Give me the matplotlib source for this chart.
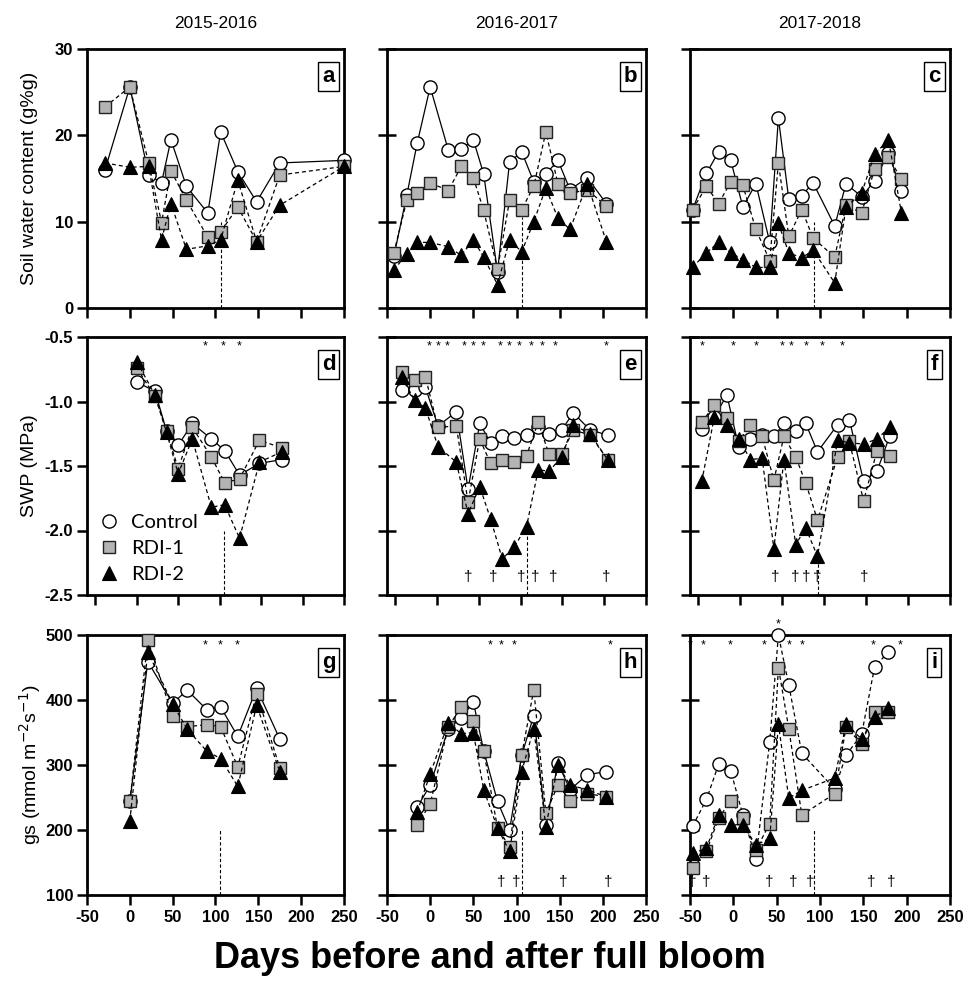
"""Soil water content, stem water potential and stomatal conductance for three seasons."""

import matplotlib

matplotlib.use("Agg")
import matplotlib.pyplot as plt

# ---- season titles / labels ----
seasons = ["2015-2016", "2016-2017", "2017-2018"]
row_labels = ["Soil water content (g%g)", "SWP (MPa)", "gs (mmol m$^{-2}$s$^{-1}$)"]
panel_letters = ["a", "b", "c", "d", "e", "f", "g", "h", "i"]
treatments = ["Control", "RDI-1", "RDI-2"]
x_ticks = [-50, 0, 50, 100, 150, 200, 250]

# ---- soil water content ----
a_days = [-29, 0, 22, 37, 48, 66, 91, 106, 126, 148, 175, 250]
a_ctrl = [16.0, 25.6, 15.4, 14.5, 19.5, 14.1, 11.0, 20.4, 15.8, 12.3, 16.8, 17.1]
a_rdi1 = [23.3, 25.6, 16.8, 9.9, 15.9, 12.5, 8.2, 8.8, 11.7, 7.7, 15.4, 16.4]
a_rdi2 = [16.8, 16.3, 16.4, 7.9, 12.1, 6.8, 7.2, 7.9, 14.8, 7.7, 11.9, 16.4]

b_days = [-42, -27, -15, 0, 21, 36, 50, 62, 78, 92, 106, 120, 134, 148, 162, 182, 204]
b_ctrl = [6.0, 13.1, 19.1, 25.6, 18.3, 18.4, 19.5, 15.5, 4.2, 16.9, 18.1, 14.6, 15.5, 17.1, 13.7, 15.1, 12.1]
b_rdi1 = [6.4, 12.5, 13.3, 14.5, 13.6, 16.4, 15.1, 11.3, 4.5, 12.5, 11.4, 14.1, 20.4, 14.4, 13.3, 13.7, 11.8]
b_rdi2 = [4.4, 6.3, 7.6, 7.6, 7.1, 6.1, 7.9, 5.9, 2.7, 7.9, 6.5, 10.0, 13.9, 10.4, 9.1, 14.4, 7.7]

c_days = [-47, -31, -17, -3, 11, 26, 42, 52, 64, 79, 92, 117, 130, 148, 163, 179, 194]
c_ctrl = [11.4, 15.6, 18.1, 17.1, 11.7, 14.4, 7.6, 22.0, 12.6, 13.0, 14.5, 9.5, 14.4, 12.9, 14.7, 18.0, 13.6]
c_rdi1 = [11.4, 14.1, 12.1, 14.6, 14.2, 9.1, 5.5, 16.8, 8.3, 11.4, 8.1, 5.9, 11.9, 11.0, 16.1, 17.5, 14.9]
c_rdi2 = [4.7, 6.4, 7.6, 6.4, 5.6, 4.7, 4.7, 9.8, 6.4, 5.8, 6.7, 2.9, 11.7, 13.3, 17.8, 19.5, 11.0]

# ---- stem water potential ----
d_days = [0, 22, 36, 50, 67, 90, 106, 124, 148, 175]
d_ctrl = [-0.85, -0.92, -1.23, -1.34, -1.17, -1.29, -1.38, -1.57, -1.48, -1.45]
d_rdi1 = [-0.74, -0.96, -1.23, -1.52, -1.20, -1.43, -1.63, -1.60, -1.30, -1.36]
d_rdi2 = [-0.69, -0.95, -1.24, -1.56, -1.29, -1.82, -1.80, -2.06, -1.47, -1.39]

e_days = [-42, -27, -14, 1, 23, 37, 51, 64, 78, 92, 107, 121, 134, 149, 163, 183, 204]
e_ctrl = [-0.91, -0.91, -0.89, -1.19, -1.08, -1.68, -1.17, -1.32, -1.27, -1.28, -1.26, -1.20, -1.25, -1.22, -1.09, -1.22, -1.26]
e_rdi1 = [-0.77, -0.83, -0.81, -1.20, -1.19, -1.78, -1.29, -1.48, -1.45, -1.47, -1.42, -1.16, -1.41, -1.41, -1.22, -1.26, -1.45]
e_rdi2 = [-0.81, -0.99, -1.05, -1.35, -1.47, -1.87, -1.66, -1.91, -2.22, -2.13, -1.97, -1.53, -1.54, -1.43, -1.18, -1.25, -1.45]

f_days = [-46, -31, -16, -2, 12, 26, 40, 52, 66, 78, 92, 116, 130, 147, 163, 178]
f_ctrl = [-1.21, -1.12, -0.95, -1.35, -1.29, -1.26, -1.27, -1.17, -1.23, -1.17, -1.39, -1.18, -1.14, -1.62, -1.54, -1.27]
f_rdi1 = [-1.16, -1.03, -1.13, -1.31, -1.18, -1.27, -1.61, -1.27, -1.43, -1.63, -1.92, -1.43, -1.31, -1.77, -1.38, -1.42]
f_rdi2 = [-1.62, -1.12, -1.18, -1.29, -1.45, -1.44, -2.14, -1.45, -2.11, -1.98, -2.20, -1.30, -1.32, -1.33, -1.29, -1.20]

# ---- stomatal conductance ----
g_days = [0, 21, 50, 67, 90, 106, 126, 148, 175]
g_ctrl = [244, 459, 395, 415, 385, 389, 344, 418, 340]
g_rdi1 = [244, 492, 375, 359, 362, 359, 297, 410, 296]
g_rdi2 = [214, 474, 394, 355, 321, 310, 267, 392, 290]

h_days = [-15, 0, 21, 36, 50, 62, 78, 92, 106, 120, 134, 148, 162, 182, 204]
h_ctrl = [235, 269, 356, 372, 397, 322, 244, 200, 315, 376, 208, 303, 262, 285, 290]
h_rdi1 = [208, 240, 359, 389, 367, 322, 203, 174, 315, 416, 226, 269, 245, 256, 251]
h_rdi2 = [228, 286, 365, 348, 350, 262, 203, 167, 290, 356, 205, 300, 269, 262, 251]

i_days = [-47, -31, -17, -3, 11, 26, 42, 52, 64, 79, 117, 130, 148, 163, 179]
i_ctrl = [206, 247, 301, 291, 223, 156, 336, 500, 423, 318, 263, 315, 347, 451, 474]
i_rdi1 = [141, 167, 218, 245, 218, 169, 210, 450, 356, 223, 256, 358, 333, 382, 382]
i_rdi2 = [164, 172, 223, 208, 208, 177, 187, 363, 249, 261, 280, 363, 340, 374, 387]

# ---- significance marks (days) ----
d_stars = [83, 104, 124]
e_stars = [-9, 1, 12, 32, 43, 55, 75, 86, 98, 113, 126, 141, 202]
f_stars = [-46, -9, 19, 50, 61, 79, 98, 122]
g_stars = [88, 105, 125]
h_stars = [70, 82, 97, 208]
i_stars = [-50, -35, -4, 36, 65, 80, 161, 192]
i_stars_above = [52]
e_daggers = [37, 67, 101, 117, 139, 202]
f_daggers = [42, 65, 79, 92, 148]
h_daggers = [82, 100, 154, 206]
i_daggers = [-48, -31, 41, 69, 89, 159, 182]

# ---- dashed marker line (day, low, high) ----
a_mark = (106, 0, 10)
b_mark = (106, 0, 10.5)
c_mark = (93, 0, 10)
d_mark = (105, -2.5, -2.0)
e_mark = (107, -2.5, -1.97)
f_mark = (93, -2.5, -2.2)
g_mark = (105, 100, 200)
h_mark = (106, 100, 200)
i_mark = (93, 100, 200)

FIG_W, FIG_H = 978, 992
COL_X = [(87, 344), (387, 646), (690, 950)]
ROW_Y = [(49, 308), (337, 595), (635, 895)]
Y_LIMS = [(0, 30), (-2.5, -0.5), (100, 500)]
Y_TICKS = [[0, 10, 20, 30], [-2.5, -2.0, -1.5, -1.0, -0.5], [100, 200, 300, 400, 500]]
X_LIMS = [(-50, 250), (-60, 250), (-50, 250)]
STAR_Y = [None, -0.575, 484]
DAGGER_Y = [None, -2.36, 120]

DASH = (0, (3.2, 2.4))


def axes_rect(col, row):
    x0, x1 = COL_X[col]
    y0, y1 = ROW_Y[row]
    return [x0 / FIG_W, 1 - y1 / FIG_H, (x1 - x0) / FIG_W, (y1 - y0) / FIG_H]


def series_styles(control_dashed=False):
    common = dict(color="black", lw=0.9, clip_on=False)
    ctrl = dict(common, marker="o", ms=9.5, mfc="white", mec="black", mew=1.0,
                ls=DASH if control_dashed else "-", zorder=3)
    rdi1 = dict(common, marker="s", ms=9, mfc="#b4b4b4", mec="#222222", mew=1.0,
                ls=DASH, zorder=4)
    rdi2 = dict(common, marker="^", ms=10, mfc="black", mec="black", mew=0.8,
                ls=DASH, zorder=5)
    return ctrl, rdi1, rdi2


def draw_panel(ax, row, col, days, ctrl, rdi1, rdi2, mark, letter,
               stars=None, daggers=None, control_dashed=False):
    s_ctrl, s_rdi1, s_rdi2 = series_styles(control_dashed)
    ax.plot(days, ctrl, label=treatments[0], **s_ctrl)
    ax.plot(days, rdi1, label=treatments[1], **s_rdi1)
    ax.plot(days, rdi2, label=treatments[2], **s_rdi2)

    day, low, high = mark
    ax.plot([day, day], [low, high], color="black", lw=0.8, ls=(0, (3, 2)), zorder=2)

    for x in stars or []:
        ax.text(x, STAR_Y[row], "*", ha="center", va="center", fontsize=9)
    for x in daggers or []:
        ax.text(x, DAGGER_Y[row], "\u2020", ha="center", va="center", fontsize=11)

    ax.set_xlim(*X_LIMS[row])
    ax.set_ylim(*Y_LIMS[row])
    ax.set_xticks(x_ticks)
    ax.set_yticks(Y_TICKS[row])
    for spine in ax.spines.values():
        spine.set_linewidth(2.0)
    ax.tick_params(axis="x", direction="out", length=7, width=1.8, labelsize=12, pad=4)
    ax.tick_params(axis="y", direction="out" if col == 0 else "inout",
                   length=7 if col == 0 else 13, width=1.8, labelsize=12, pad=3)
    if row < 2:
        ax.tick_params(axis="x", labelbottom=False)
    if col > 0:
        ax.tick_params(axis="y", labelleft=False)
    if row == 1:
        ax.set_yticklabels([f"{t:.1f}" for t in Y_TICKS[row]])
    plt.setp(ax.get_xticklabels() + ax.get_yticklabels(), fontweight="bold")

    ax.text(0.94, 0.895, letter, transform=ax.transAxes, ha="center", va="center",
            fontsize=16, fontweight="bold", zorder=6,
            bbox=dict(boxstyle="square,pad=0.18", fc="white", ec="black", lw=1.0))


def main():
    plt.rcParams["font.family"] = ["Liberation Sans", "DejaVu Sans"]
    plt.rcParams["axes.unicode_minus"] = False
    fig = plt.figure(figsize=(FIG_W / 100, FIG_H / 100), dpi=100)

    panels = [
        (a_days, a_ctrl, a_rdi1, a_rdi2, a_mark, None, None),
        (b_days, b_ctrl, b_rdi1, b_rdi2, b_mark, None, None),
        (c_days, c_ctrl, c_rdi1, c_rdi2, c_mark, None, None),
        (d_days, d_ctrl, d_rdi1, d_rdi2, d_mark, d_stars, None),
        (e_days, e_ctrl, e_rdi1, e_rdi2, e_mark, e_stars, e_daggers),
        (f_days, f_ctrl, f_rdi1, f_rdi2, f_mark, f_stars, f_daggers),
        (g_days, g_ctrl, g_rdi1, g_rdi2, g_mark, g_stars, None),
        (h_days, h_ctrl, h_rdi1, h_rdi2, h_mark, h_stars, h_daggers),
        (i_days, i_ctrl, i_rdi1, i_rdi2, i_mark, i_stars, i_daggers),
    ]

    axes = []
    for k, (days, ctrl, rdi1, rdi2, mark, stars, daggers) in enumerate(panels):
        row, col = divmod(k, 3)
        ax = fig.add_axes(axes_rect(col, row))
        draw_panel(ax, row, col, days, ctrl, rdi1, rdi2, mark, panel_letters[k],
                   stars, daggers, control_dashed=(k == 8))
        axes.append(ax)

    # star sitting above the top spine in panel i
    for x in i_stars_above:
        axes[8].text(x, 516, "*", ha="center", va="center", fontsize=9, clip_on=False)

    leg = axes[3].legend(loc="lower left", frameon=False, handlelength=1.0,
                         handletextpad=0.6, labelspacing=0.45, borderaxespad=0.2,
                         prop={"family": ["Lato", "DejaVu Sans"], "size": 14.5})
    for handle in leg.get_lines():
        handle.set_linestyle("none")

    for col, title in enumerate(seasons):
        x0, x1 = COL_X[col]
        fig.text((x0 + x1) / 2 / FIG_W, 1 - 24 / FIG_H, title, ha="center", va="center",
                 fontsize=12.5)

    for row, label in enumerate(row_labels):
        y0, y1 = ROW_Y[row]
        fig.text(30 / FIG_W, 1 - (y0 + y1) / 2 / FIG_H, label, rotation=90,
                 ha="center", va="center", fontsize=14)

    fig.text(490 / FIG_W, 1 - 958 / FIG_H, "Days before and after full bloom",
             ha="center", va="center", fontsize=26, fontweight="bold")

    fig.savefig("out.png", dpi=100)
    plt.close(fig)


if __name__ == "__main__":
    main()
